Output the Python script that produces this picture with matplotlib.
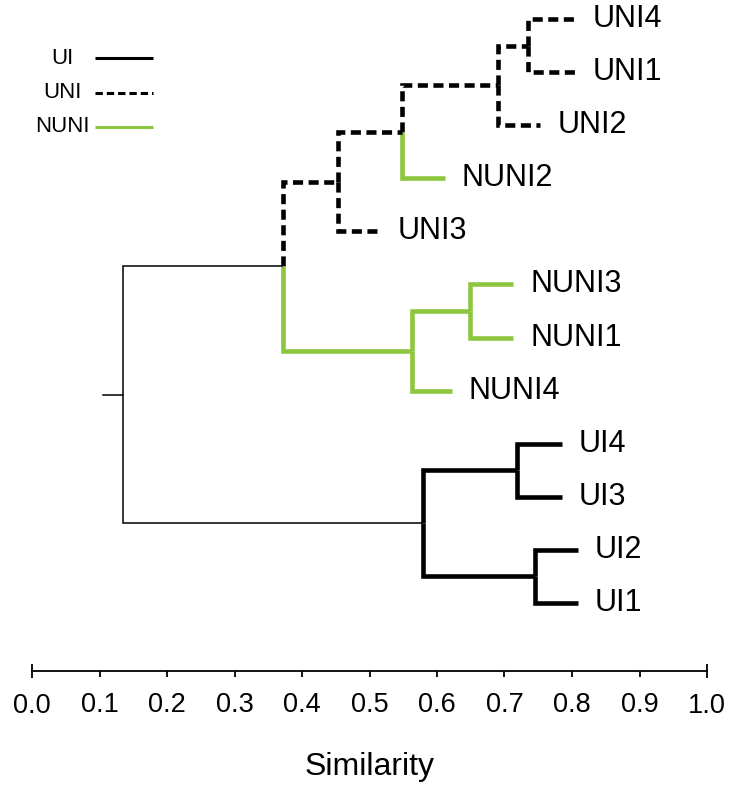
import matplotlib.pyplot as plt
from matplotlib.lines import Line2D

plt.rcParams['font.family'] = ['Liberation Sans', 'DejaVu Sans']

# leaves, listed top to bottom
leaves = ['UNI4', 'UNI1', 'UNI2', 'NUNI2', 'UNI3', 'NUNI3', 'NUNI1', 'NUNI4', 'UI4', 'UI3', 'UI2', 'UI1']
leaf_group = ['UNI', 'UNI', 'UNI', 'NUNI', 'UNI', 'NUNI', 'NUNI', 'NUNI', 'UI', 'UI', 'UI', 'UI']
leaf_end = [0.806, 0.806, 0.753, 0.612, 0.516, 0.713, 0.713, 0.622, 0.785, 0.785, 0.809, 0.809]

# merges (name, children, similarity, group)
merge_names = ['n1', 'n2', 'n3', 'n4', 'n5', 'n6', 'n7', 'n8', 'n9', 'n10', 'root']
merge_left = ['UNI4', 'n1', 'n2', 'n3', 'NUNI3', 'n5', 'n4', 'UI4', 'UI2', 'n8', 'n7']
merge_right = ['UNI1', 'UNI2', 'NUNI2', 'UNI3', 'NUNI1', 'NUNI4', 'n6', 'UI3', 'UI1', 'n9', 'n10']
merge_sim = [0.735, 0.690, 0.548, 0.453, 0.649, 0.563, 0.372, 0.719, 0.745, 0.579, 0.135]
merge_group = ['UNI', 'UNI', 'UNI', 'UNI', 'NUNI', 'NUNI', None, 'UI', 'UI', 'UI', None]
root_stub = 0.105

legend_labels = ['UI', 'UNI', 'NUNI']
ticks = [0.0, 0.1, 0.2, 0.3, 0.4, 0.5, 0.6, 0.7, 0.8, 0.9, 1.0]

green = '#8dc63f'
styles = {
    'UI': dict(color='black', linestyle='-', linewidth=3.3),
    'UNI': dict(color='black', linestyle=(0, (2.2, 1.2)), linewidth=3.3),
    'NUNI': dict(color=green, linestyle='-', linewidth=3.3),
}
thin = dict(color='black', linestyle='-', linewidth=1.1)

# node positions
xpos, ypos, group = {}, {}, {}
n = len(leaves)
for i, name in enumerate(leaves):
    xpos[name] = leaf_end[i]
    ypos[name] = n - 1 - i
    group[name] = leaf_group[i]
for name, a, b, s, g in zip(merge_names, merge_left, merge_right, merge_sim, merge_group):
    xpos[name] = s
    ypos[name] = (ypos[a] + ypos[b]) / 2
    group[name] = g

fig = plt.figure(figsize=(7.29, 7.89), dpi=100)
ax = fig.add_axes([32 / 729, 1 - 671 / 789, 675 / 729, 671 / 789])

for name, a, b in zip(merge_names, merge_left, merge_right):
    for c in (a, b):
        st = thin if name == 'root' else styles[group[c]]
        ax.plot([xpos[name], xpos[name], xpos[c]], [ypos[name], ypos[c], ypos[c]],
                solid_joinstyle='miter', dash_joinstyle='miter',
                solid_capstyle='butt', dash_capstyle='butt', clip_on=False, **st)
ax.plot([root_stub, xpos['root']], [ypos['root'], ypos['root']], clip_on=False, **thin)

for name in leaves:
    ax.text(xpos[name] + 0.025, ypos[name], name, va='center', ha='left', fontsize=22)

# legend drawn by hand so the labels are centred
for i, lab in enumerate(legend_labels):
    yf = 1 - (58 + 34.5 * i) / 789
    fig.text(62 / 729, yf, lab, ha='center', va='center', fontsize=16)
    st = dict(styles[lab])
    st['linewidth'] = 2.2
    if lab == 'UNI':
        st['linestyle'] = (0, (2.4, 1.3))
    fig.add_artist(Line2D([95 / 729, 153 / 729], [yf, yf], transform=fig.transFigure,
                          solid_capstyle='butt', dash_capstyle='butt', **st))

ax.set_xlim(0, 1)
ax.set_ylim(-1.281, 11.358)
for sp in ['left', 'right', 'top']:
    ax.spines[sp].set_visible(False)
ax.spines['bottom'].set_linewidth(1.3)
ax.set_yticks([])
ax.set_xticks(ticks[1:-1])
ax.set_xticklabels([f'{t:.1f}' for t in ticks[1:-1]])
ax.set_xticks([ticks[0], ticks[-1]], minor=True)
ax.set_xticklabels([f'{ticks[0]:.1f}', f'{ticks[-1]:.1f}'], minor=True)
ax.tick_params(axis='x', which='major', direction='out', length=4.3, width=1.3, pad=11, labelsize=19.5)
ax.tick_params(axis='x', which='minor', direction='inout', length=9.4, width=1.3, pad=11, labelsize=19.5)
ax.set_xlabel('Similarity', fontsize=23, labelpad=24)

fig.savefig('out.png', dpi=100)
